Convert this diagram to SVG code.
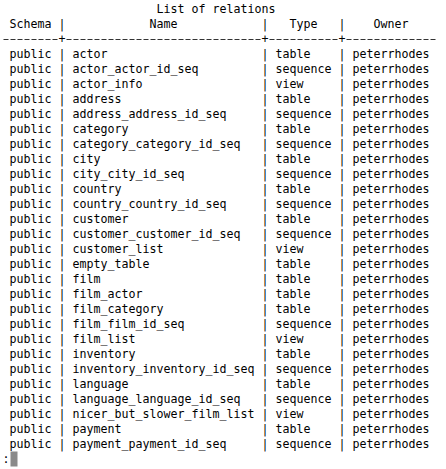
<svg xmlns="http://www.w3.org/2000/svg" width="446" height="469" viewBox="0 0 446 469">
<style>
text{font-family:"DejaVu Sans Mono","Liberation Mono",monospace;font-size:11.63px;fill:#000}
.cur{fill:#8a8a8a}
.rule{fill:none;stroke:#333;stroke-width:1;stroke-dasharray:5 2;stroke-dashoffset:6}
</style>
<rect width="446" height="469" fill="#fff"/>
<g id="title"><text x="156.5" y="13">List of relations</text></g>
<g id="header">
<text y="28"><tspan x="9.5">Schema</tspan><tspan x="58.5">|</tspan><tspan x="149.5">Name</tspan><tspan x="261.5">|</tspan><tspan x="289.5">Type</tspan><tspan x="338.5">|</tspan><tspan x="373.5">Owner</tspan></text>
</g>
<g id="separator">
<path class="rule" d="M2.5 39.5H58.5"/>
<path class="rule" d="M65.5 39.5H261.5"/>
<path class="rule" d="M268.5 39.5H338.5"/>
<path class="rule" d="M345.5 39.5H436.5"/>
<text x="58.5" y="43">+</text>
<text x="261.5" y="43">+</text>
<text x="338.5" y="43">+</text>
</g>
<g id="rows">
<text y="58"><tspan x="9.5">public</tspan><tspan x="58.5">|</tspan><tspan x="72.5">actor</tspan><tspan x="261.5">|</tspan><tspan x="275.5">table</tspan><tspan x="338.5">|</tspan><tspan x="352.5">peterrhodes</tspan></text>
<text y="73"><tspan x="9.5">public</tspan><tspan x="58.5">|</tspan><tspan x="72.5">actor_actor_id_seq</tspan><tspan x="261.5">|</tspan><tspan x="275.5">sequence</tspan><tspan x="338.5">|</tspan><tspan x="352.5">peterrhodes</tspan></text>
<text y="88"><tspan x="9.5">public</tspan><tspan x="58.5">|</tspan><tspan x="72.5">actor_info</tspan><tspan x="261.5">|</tspan><tspan x="275.5">view</tspan><tspan x="338.5">|</tspan><tspan x="352.5">peterrhodes</tspan></text>
<text y="103"><tspan x="9.5">public</tspan><tspan x="58.5">|</tspan><tspan x="72.5">address</tspan><tspan x="261.5">|</tspan><tspan x="275.5">table</tspan><tspan x="338.5">|</tspan><tspan x="352.5">peterrhodes</tspan></text>
<text y="118"><tspan x="9.5">public</tspan><tspan x="58.5">|</tspan><tspan x="72.5">address_address_id_seq</tspan><tspan x="261.5">|</tspan><tspan x="275.5">sequence</tspan><tspan x="338.5">|</tspan><tspan x="352.5">peterrhodes</tspan></text>
<text y="133"><tspan x="9.5">public</tspan><tspan x="58.5">|</tspan><tspan x="72.5">category</tspan><tspan x="261.5">|</tspan><tspan x="275.5">table</tspan><tspan x="338.5">|</tspan><tspan x="352.5">peterrhodes</tspan></text>
<text y="148"><tspan x="9.5">public</tspan><tspan x="58.5">|</tspan><tspan x="72.5">category_category_id_seq</tspan><tspan x="261.5">|</tspan><tspan x="275.5">sequence</tspan><tspan x="338.5">|</tspan><tspan x="352.5">peterrhodes</tspan></text>
<text y="163"><tspan x="9.5">public</tspan><tspan x="58.5">|</tspan><tspan x="72.5">city</tspan><tspan x="261.5">|</tspan><tspan x="275.5">table</tspan><tspan x="338.5">|</tspan><tspan x="352.5">peterrhodes</tspan></text>
<text y="178"><tspan x="9.5">public</tspan><tspan x="58.5">|</tspan><tspan x="72.5">city_city_id_seq</tspan><tspan x="261.5">|</tspan><tspan x="275.5">sequence</tspan><tspan x="338.5">|</tspan><tspan x="352.5">peterrhodes</tspan></text>
<text y="193"><tspan x="9.5">public</tspan><tspan x="58.5">|</tspan><tspan x="72.5">country</tspan><tspan x="261.5">|</tspan><tspan x="275.5">table</tspan><tspan x="338.5">|</tspan><tspan x="352.5">peterrhodes</tspan></text>
<text y="208"><tspan x="9.5">public</tspan><tspan x="58.5">|</tspan><tspan x="72.5">country_country_id_seq</tspan><tspan x="261.5">|</tspan><tspan x="275.5">sequence</tspan><tspan x="338.5">|</tspan><tspan x="352.5">peterrhodes</tspan></text>
<text y="223"><tspan x="9.5">public</tspan><tspan x="58.5">|</tspan><tspan x="72.5">customer</tspan><tspan x="261.5">|</tspan><tspan x="275.5">table</tspan><tspan x="338.5">|</tspan><tspan x="352.5">peterrhodes</tspan></text>
<text y="238"><tspan x="9.5">public</tspan><tspan x="58.5">|</tspan><tspan x="72.5">customer_customer_id_seq</tspan><tspan x="261.5">|</tspan><tspan x="275.5">sequence</tspan><tspan x="338.5">|</tspan><tspan x="352.5">peterrhodes</tspan></text>
<text y="253"><tspan x="9.5">public</tspan><tspan x="58.5">|</tspan><tspan x="72.5">customer_list</tspan><tspan x="261.5">|</tspan><tspan x="275.5">view</tspan><tspan x="338.5">|</tspan><tspan x="352.5">peterrhodes</tspan></text>
<text y="268"><tspan x="9.5">public</tspan><tspan x="58.5">|</tspan><tspan x="72.5">empty_table</tspan><tspan x="261.5">|</tspan><tspan x="275.5">table</tspan><tspan x="338.5">|</tspan><tspan x="352.5">peterrhodes</tspan></text>
<text y="283"><tspan x="9.5">public</tspan><tspan x="58.5">|</tspan><tspan x="72.5">film</tspan><tspan x="261.5">|</tspan><tspan x="275.5">table</tspan><tspan x="338.5">|</tspan><tspan x="352.5">peterrhodes</tspan></text>
<text y="298"><tspan x="9.5">public</tspan><tspan x="58.5">|</tspan><tspan x="72.5">film_actor</tspan><tspan x="261.5">|</tspan><tspan x="275.5">table</tspan><tspan x="338.5">|</tspan><tspan x="352.5">peterrhodes</tspan></text>
<text y="313"><tspan x="9.5">public</tspan><tspan x="58.5">|</tspan><tspan x="72.5">film_category</tspan><tspan x="261.5">|</tspan><tspan x="275.5">table</tspan><tspan x="338.5">|</tspan><tspan x="352.5">peterrhodes</tspan></text>
<text y="328"><tspan x="9.5">public</tspan><tspan x="58.5">|</tspan><tspan x="72.5">film_film_id_seq</tspan><tspan x="261.5">|</tspan><tspan x="275.5">sequence</tspan><tspan x="338.5">|</tspan><tspan x="352.5">peterrhodes</tspan></text>
<text y="343"><tspan x="9.5">public</tspan><tspan x="58.5">|</tspan><tspan x="72.5">film_list</tspan><tspan x="261.5">|</tspan><tspan x="275.5">view</tspan><tspan x="338.5">|</tspan><tspan x="352.5">peterrhodes</tspan></text>
<text y="358"><tspan x="9.5">public</tspan><tspan x="58.5">|</tspan><tspan x="72.5">inventory</tspan><tspan x="261.5">|</tspan><tspan x="275.5">table</tspan><tspan x="338.5">|</tspan><tspan x="352.5">peterrhodes</tspan></text>
<text y="373"><tspan x="9.5">public</tspan><tspan x="58.5">|</tspan><tspan x="72.5">inventory_inventory_id_seq</tspan><tspan x="261.5">|</tspan><tspan x="275.5">sequence</tspan><tspan x="338.5">|</tspan><tspan x="352.5">peterrhodes</tspan></text>
<text y="388"><tspan x="9.5">public</tspan><tspan x="58.5">|</tspan><tspan x="72.5">language</tspan><tspan x="261.5">|</tspan><tspan x="275.5">table</tspan><tspan x="338.5">|</tspan><tspan x="352.5">peterrhodes</tspan></text>
<text y="403"><tspan x="9.5">public</tspan><tspan x="58.5">|</tspan><tspan x="72.5">language_language_id_seq</tspan><tspan x="261.5">|</tspan><tspan x="275.5">sequence</tspan><tspan x="338.5">|</tspan><tspan x="352.5">peterrhodes</tspan></text>
<text y="418"><tspan x="9.5">public</tspan><tspan x="58.5">|</tspan><tspan x="72.5">nicer_but_slower_film_list</tspan><tspan x="261.5">|</tspan><tspan x="275.5">view</tspan><tspan x="338.5">|</tspan><tspan x="352.5">peterrhodes</tspan></text>
<text y="433"><tspan x="9.5">public</tspan><tspan x="58.5">|</tspan><tspan x="72.5">payment</tspan><tspan x="261.5">|</tspan><tspan x="275.5">table</tspan><tspan x="338.5">|</tspan><tspan x="352.5">peterrhodes</tspan></text>
<text y="448"><tspan x="9.5">public</tspan><tspan x="58.5">|</tspan><tspan x="72.5">payment_payment_id_seq</tspan><tspan x="261.5">|</tspan><tspan x="275.5">sequence</tspan><tspan x="338.5">|</tspan><tspan x="352.5">peterrhodes</tspan></text>
</g>
<g id="prompt">
<text x="2.5" y="463">:</text>
<rect class="cur" x="10.5" y="451.5" width="7" height="15"/>
</g>
</svg>
